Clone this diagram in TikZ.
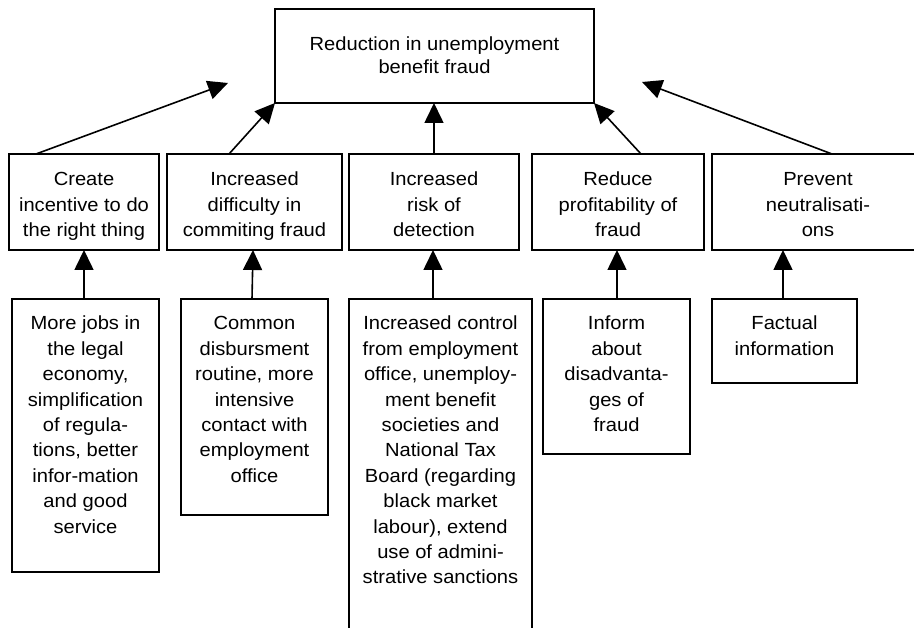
\documentclass[tikz,border=0pt]{standalone}
\usepackage{fontspec}
\setmainfont{Liberation Sans}[FakeStretch=1.06]
\usetikzlibrary{arrows.meta}
\newcommand{\boxlines}[1]{\parbox[t]{220pt}{\centering\fontsize{19}{25.4}\selectfont #1}}
\newcommand{\toplines}[1]{\parbox[t]{300pt}{\centering\fontsize{19}{22.6}\selectfont #1}}
\begin{document}
\begin{tikzpicture}[x=1pt,y=-1pt,
  bx/.style={draw, line width=1.6pt, inner sep=0pt, outer sep=0pt, anchor=north west},
  txt/.style={inner sep=0pt, anchor=base},
  arr/.style={line width=1.6pt, -{Triangle[length=20pt,width=19pt]}}]
\useasboundingbox (0,0) rectangle (914,628);
\clip (0,0) rectangle (914,628);
% top
\node[bx, minimum width=319, minimum height=94] (top) at (275,9) {};
\node[txt] (ttop) at (434.5,50.7) {\toplines{Reduction in unemployment\\benefit fraud}};
% middle row
\node[bx, minimum width=150, minimum height=96] (m1) at (9,154) {};
\node[bx, minimum width=175, minimum height=96] (m2) at (167,154) {};
\node[bx, minimum width=170, minimum height=96] (m3) at (349,154) {};
\node[bx, minimum width=172, minimum height=96] (m4) at (532,154) {};
\node[bx, minimum width=212, minimum height=96] (m5) at (712,154) {};
\node[txt] (tm1) at (84,186) {\boxlines{Create\\incentive to do\\the right thing}};
\node[txt] (tm2) at (254.5,186) {\boxlines{Increased\\difficulty in\\commiting fraud}};
\node[txt] (tm3) at (434,186) {\boxlines{Increased\\risk of\\detection}};
\node[txt] (tm4) at (618,186) {\boxlines{Reduce\\profitability of\\fraud}};
\node[txt] (tm5) at (818,186) {\boxlines{Prevent\\neutralisati-\\ons}};
% bottom row
\node[bx, minimum width=147, minimum height=273] (b1) at (12,299) {};
\node[bx, minimum width=147, minimum height=216] (b2) at (181,299) {};
\node[bx, minimum width=183, minimum height=360] (b3) at (349,299) {};
\node[bx, minimum width=147, minimum height=155] (b4) at (543,299) {};
\node[bx, minimum width=145, minimum height=84] (b5) at (712,299) {};
\node[txt] (tb1) at (85.5,330) {\boxlines{More jobs in\\the legal\\economy,\\simplification\\of regula-\\tions, better\\infor-mation\\and good\\service}};
\node[txt] (tb2) at (254.5,330) {\boxlines{Common\\disbursment\\routine, more\\intensive\\contact with\\employment\\office}};
\node[txt] (tb3) at (440.5,330) {\boxlines{Increased control\\from employment\\office, unemploy-\\ment benefit\\societies and\\National Tax\\Board (regarding\\black market\\labour), extend\\use of admini-\\strative sanctions}};
\node[txt] (tb4) at (616.5,330) {\boxlines{Inform\\about\\disadvanta-\\ges of\\fraud}};
\node[txt] (tb5) at (784.5,330) {\boxlines{Factual\\information}};
% free arrow ends
\coordinate (tip1) at (228,83);
\coordinate (tip5) at (642,82);
% arrows middle -> top
\draw[arr] ([xshift=27]m1.north west) -- (tip1);
\draw[arr] ([xshift=62]m2.north west) -- (top.south west);
\draw[arr] (m3.north) -- (m3.north |- top.south);
\draw[arr] ([xshift=109]m4.north west) -- (top.south east);
\draw[arr] ([xshift=120]m5.north west) -- (tip5);
% arrows bottom -> middle
\draw[arr] ([xshift=-1.5]b1.north) -- (m1.south);
\draw[arr] ([xshift=-2.5]b2.north) -- ([xshift=-1.5]m2.south);
\draw[arr] ([xshift=-7.5]b3.north) -- ([xshift=-1]m3.south);
\draw[arr] ([xshift=0.5]b4.north) -- ([xshift=-1]m4.south);
\draw[arr] ([xshift=-1.5]b5.north) -- ([xshift=-35]m5.south);
\end{tikzpicture}
\end{document}
